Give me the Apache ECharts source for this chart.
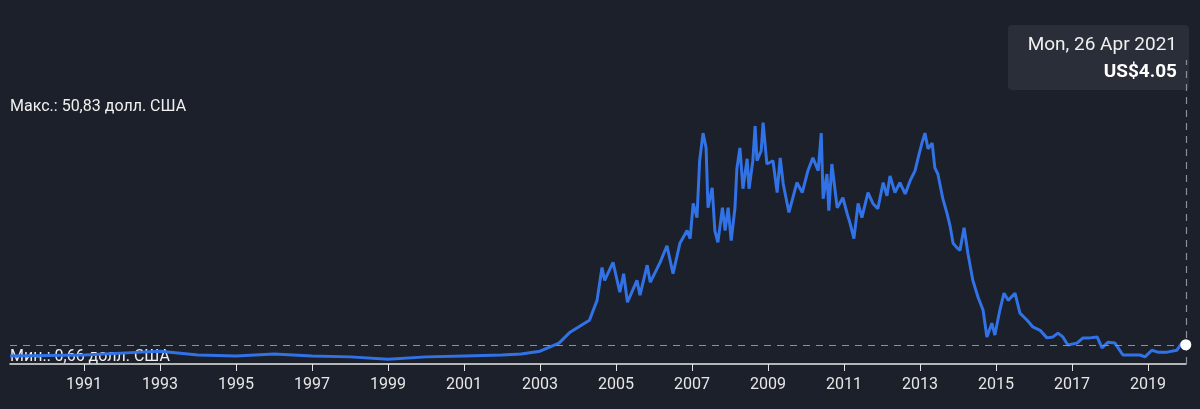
<!DOCTYPE html>
<html>
<head>
<meta charset="utf-8">
<script src="https://cdn.jsdelivr.net/npm/echarts@6/dist/echarts.min.js"></script>
<style>
  html, body { margin: 0; padding: 0; background: #1c202a; }
  #main { width: 1200px; height: 409px; }
</style>
</head>
<body>
<div id="main"></div>
<script>
// years (fractional) and price in US$
var years = [1989.05, 1991, 1992.5, 1993, 1994, 1995, 1996, 1997, 1998, 1999, 2000, 2001, 2002, 2002.5, 2003, 2003.5, 2003.79,
  2004.3, 2004.5, 2004.63, 2004.7, 2004.92, 2005.1, 2005.2, 2005.3, 2005.55, 2005.63, 2005.82, 2005.9, 2006.16, 2006.34, 2006.5,
  2006.68, 2006.87, 2006.95, 2007.03, 2007.13, 2007.2, 2007.29, 2007.37, 2007.42, 2007.53, 2007.6, 2007.68, 2007.8, 2007.87,
  2007.95, 2008.03, 2008.13, 2008.18, 2008.26, 2008.34, 2008.45, 2008.5, 2008.6, 2008.66, 2008.71, 2008.82, 2008.87, 2008.97,
  2009.13, 2009.24, 2009.32, 2009.4, 2009.55, 2009.76, 2009.9, 2010.05, 2010.18, 2010.32, 2010.4, 2010.45, 2010.55, 2010.6,
  2010.68, 2010.82, 2010.97, 2011.08, 2011.16, 2011.26, 2011.37, 2011.47, 2011.63, 2011.76, 2011.89, 2012.03, 2012.13, 2012.21,
  2012.34, 2012.47, 2012.61, 2012.74, 2012.87, 2012.95, 2013.05, 2013.13, 2013.21, 2013.32, 2013.39, 2013.47, 2013.6, 2013.71,
  2013.79, 2013.87, 2013.97, 2014.05, 2014.16, 2014.26, 2014.39, 2014.53, 2014.66, 2014.76, 2014.89, 2014.97, 2015.1, 2015.21,
  2015.32, 2015.5, 2015.63, 2015.82, 2015.97, 2016.16, 2016.34, 2016.5, 2016.63, 2016.76, 2016.89, 2017.13, 2017.29, 2017.47,
  2017.66, 2017.79, 2017.95, 2018.13, 2018.34, 2018.6, 2018.79, 2018.92, 2019.1, 2019.26, 2019.5, 2019.76, 2019.89, 2019.995];
var prices = [1.7, 1.9, 2.5, 2.7, 1.9, 1.7, 2.1, 1.7, 1.5, 1.0, 1.5, 1.7, 1.9, 2.1, 2.7, 4.4, 6.7,
  9.2, 13.4, 20.3, 17.6, 21.4, 15.1, 19, 13, 17.6, 14.5, 20.8, 17.2, 21.4, 24.9, 19,
  25.4, 28.1, 26.4, 33.8, 30.8, 42.8, 48.6, 45.5, 32.9, 37.1, 28.1, 25.6, 32.9, 28.1,
  32.9, 26, 32.9, 41.1, 45.5, 36.9, 43.2, 36.9, 42.8, 50.1, 42.8, 44.9, 50.83, 42.1,
  42.8, 36.1, 43.4, 37.9, 31.9, 38.2, 36.1, 40.7, 43.4, 40.7, 48.6, 34.8, 40, 32.3,
  42.1, 32.9, 35, 31.7, 29.6, 26.4, 33.8, 30.8, 36.1, 33.8, 32.7, 38.2, 35.4, 39.6,
  36.1, 38.2, 35.8, 38.6, 40.7, 43.4, 46.5, 48.6, 45.3, 46.5, 41.3, 40, 34.8, 31.7,
  29.1, 25.4, 24.5, 23.9, 28.7, 23.3, 17.6, 14, 11.3, 5.7, 8.6, 6.1, 11.3, 14.9,
  13.4, 14.9, 10.7, 9.2, 7.8, 7.1, 5.5, 5.7, 6.5, 5.7, 4, 4.4, 5.5, 5.5,
  5.7, 3.4, 4.6, 4.4, 1.9, 1.9, 1.9, 1.5, 2.9, 2.5, 2.5, 2.9, 4.4, 4.05];
var tickYears = [1991, 1993, 1995, 1997, 1999, 2001, 2003, 2005, 2007, 2009, 2011, 2013, 2015, 2017, 2019];

var data = years.map(function (y, i) { return [y, prices[i]]; });
var last = data[data.length - 1];

var chart = echarts.init(document.getElementById('main'));
chart.setOption({
  backgroundColor: '#1c202a',
  animation: false,
  grid: { left: 10, right: 14, top: 60, bottom: 45 },
  xAxis: {
    type: 'value', min: 1989.05, max: 2020.0,
    splitLine: { show: false },
    axisLine: { lineStyle: { color: '#e6e6e6', width: 1.5 } },
    axisTick: { customValues: tickYears, length: 7, lineStyle: { color: '#e6e6e6' } },
    axisLabel: { customValues: tickYears, color: '#e6e6e6', fontSize: 16, fontFamily: 'Roboto', margin: 13,
      formatter: function (v) { return String(v); } }
  },
  yAxis: { type: 'value', min: 0, max: 64, show: false },
  series: [{
    type: 'line', data: data, showSymbol: false, smooth: false,
    lineStyle: { color: '#3172e6', width: 3 },
    markLine: {
      silent: true, symbol: 'none', label: { show: false },
      lineStyle: { color: '#8a8f99', type: [7, 6], width: 1.2 },
      data: [{ yAxis: last[1] }, { xAxis: 2020.0 }]
    },
    markPoint: {
      symbol: 'circle', symbolSize: 11, label: { show: false },
      itemStyle: { color: '#ffffff' },
      data: [{ coord: last }]
    }
  }],
  graphic: [
    { type: 'text', left: 10, top: 99, style: { text: 'Макс.: 50,83 долл. США', fill: '#f0f0f0', font: '16px Roboto' } },
    { type: 'text', left: 10, top: 349, style: { text: 'Мин.: 0,66 долл. США', fill: '#f0f0f0', font: '16px Roboto' } },
    { type: 'rect', shape: { x: 1008, y: 25, width: 181, height: 65, r: 4 }, style: { fill: '#2a2e39' } },
    { type: 'text', x: 1177, y: 45, style: { text: 'Mon, 26 Apr 2021', fill: '#f0f0f0', font: '19px Roboto', align: 'right', verticalAlign: 'middle' } },
    { type: 'text', x: 1177, y: 72, style: { text: 'US$4.05', fill: '#ffffff', font: 'bold 19px Roboto', align: 'right', verticalAlign: 'middle' } }
  ]
});
</script>
</body>
</html>
